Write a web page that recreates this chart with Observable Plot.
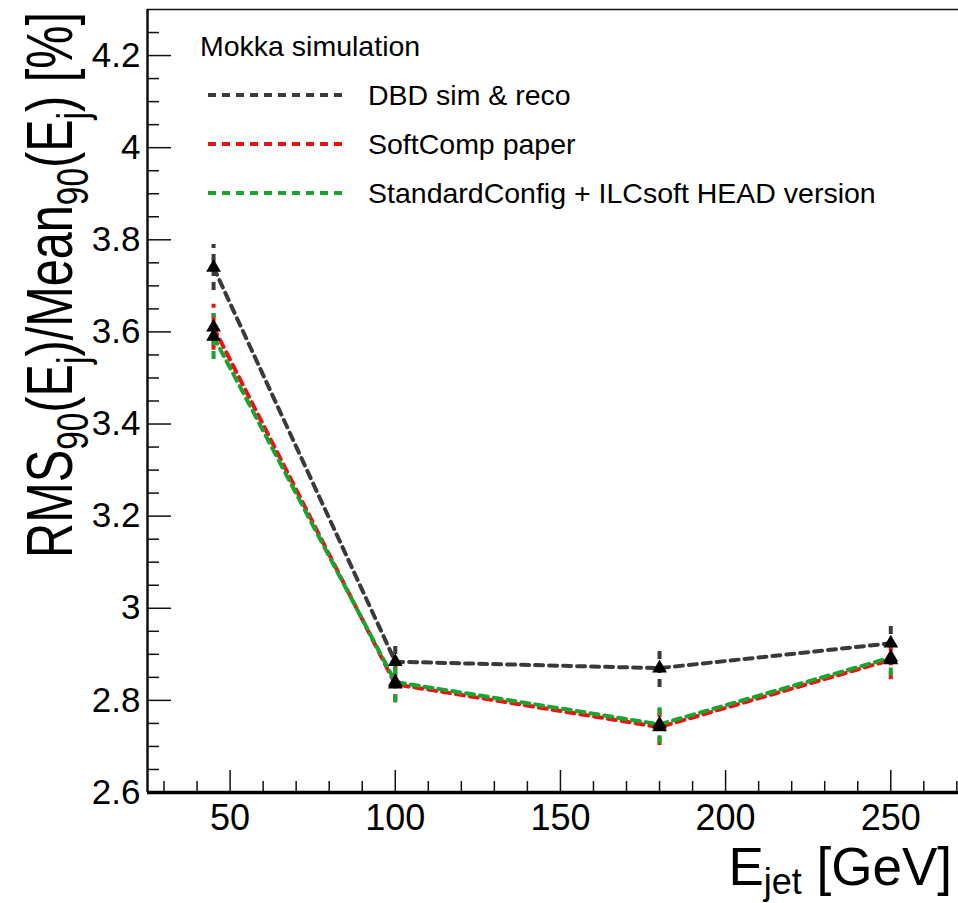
<!DOCTYPE html>
<html>
<head>
<meta charset="utf-8">
<script src="https://cdn.jsdelivr.net/npm/d3@7"></script>
<script src="https://cdn.jsdelivr.net/npm/@observablehq/plot@0.6"></script>
<style>
  html, body { margin: 0; padding: 0; background: #fff; }
  #chart svg { display: block; }
</style>
</head>
<body>
<div id="chart"></div>
<script>
// ---- data ----
const energies = [45, 100, 180, 250];

const seriesNames = ["DBD sim & reco", "SoftComp paper", "StandardConfig + ILCsoft HEAD version"];
const seriesColors = ["#3a3a3a", "#ee1111", "#1aa32e"];

const dbdValues = [3.74, 2.884, 2.870, 2.924];
const dbdErrors = [0.050, 0.045, 0.042, 0.042];

const softCompValues = [3.610, 2.835, 2.742, 2.888];
const softCompErrors = [0.050, 0.040, 0.040, 0.043];

const standardValues = [3.590, 2.840, 2.748, 2.893];
const standardErrors = [0.050, 0.045, 0.042, 0.040];

const yTickValues = [2.6, 2.8, 3.0, 3.2, 3.4, 3.6, 3.8, 4.0, 4.2];
const yTickLabels = ["2.6", "2.8", "3", "3.2", "3.4", "3.6", "3.8", "4", "4.2"];
const xTickValues = [50, 100, 150, 200, 250];
const xTickLabels = ["50", "100", "150", "200", "250"];

const legendTitle = "Mokka simulation";

// ---- build tables ----
const valueSets = [dbdValues, softCompValues, standardValues];
const errorSets = [dbdErrors, softCompErrors, standardErrors];
const tables = seriesNames.map((name, s) =>
  energies.map((e, i) => ({
    series: name,
    energy: e,
    value: valueSets[s][i],
    lo: valueSets[s][i] - errorSets[s][i],
    hi: valueSets[s][i] + errorSets[s][i]
  }))
);
const allRows = tables.flat();

const yMinor = d3.range(2.65, 4.3, 0.05).filter(v => !yTickValues.some(t => Math.abs(t - v) < 1e-6));
const xMinor = d3.range(30, 271, 10).filter(v => !xTickValues.includes(v));

// ---- layout ----
const W = 958, H = 903;
const mL = 147, mR = 0, mT = 9, mB = 111;
const plotW = W - mL - mR, plotH = H - mT - mB;
const xDomain = [25, 270.5];
const yDomain = [2.6, 4.3];
const font = "'Liberation Sans', Arial, Helvetica, sans-serif";
const dash = "8,6";

const seriesMarks = tables.flatMap((rows, s) => [
  Plot.ruleX(rows, {x: "energy", y1: "lo", y2: "hi", stroke: seriesColors[s], strokeWidth: 4, strokeDasharray: dash}),
  Plot.line(rows, {x: "energy", y: "value", stroke: seriesColors[s], strokeWidth: 4, strokeDasharray: dash})
]);

const svg = Plot.plot({
  width: W, height: H,
  marginLeft: mL, marginRight: mR, marginTop: mT, marginBottom: mB,
  style: {fontFamily: font, background: "#fff", overflow: "visible"},
  x: {domain: xDomain, label: null},
  y: {domain: yDomain, label: null},
  marks: [
    // minor / major ticks pointing inward
    Plot.ruleY(yMinor, {y: d => d, insetRight: plotW - 12, stroke: "#111", strokeWidth: 1.5}),
    Plot.ruleY(yTickValues, {y: d => d, insetRight: plotW - 24, stroke: "#111", strokeWidth: 1.5}),
    Plot.ruleX(xMinor, {x: d => d, insetTop: plotH - 11, stroke: "#111", strokeWidth: 1.5}),
    Plot.ruleX(xTickValues, {x: d => d, insetTop: plotH - 22, stroke: "#111", strokeWidth: 1.5}),
    // frame
    Plot.ruleY([yDomain[1]], {stroke: "#111", strokeWidth: 1.5}),
    Plot.ruleX([xDomain[0]], {stroke: "#111", strokeWidth: 2.5}),
    Plot.ruleY([yDomain[0]], {stroke: "#000", strokeWidth: 3.5}),
    // tick labels
    Plot.axisY(yTickValues, {tickSize: 0, tickPadding: 7, fontSize: 35, label: null,
      tickFormat: d => yTickLabels[yTickValues.indexOf(d)], fill: "#000"}),
    Plot.axisX(xTickValues, {tickSize: 0, tickPadding: 12, fontSize: 36, label: null,
      tickFormat: d => xTickLabels[xTickValues.indexOf(d)], fill: "#000"}),
    // data
    ...seriesMarks,
    Plot.dot(allRows, {x: "energy", y: "value", symbol: "triangle", r: 5.5, fill: "#000", stroke: "none"})
  ]
});

// ---- titles and legend (text elements appended to the Plot SVG) ----
const g = d3.select(svg).append("g").attr("font-family", font).attr("fill", "#000")
  .attr("text-anchor", "start");

// x title: E_jet [GeV]
const xt = g.append("text").attr("x", 952).attr("y", 885).attr("text-anchor", "end").attr("font-size", 53);
xt.append("tspan").text("E");
xt.append("tspan").attr("font-size", 36).attr("dy", 9).text("jet");
xt.append("tspan").attr("dy", -9).text(" [GeV]");

// y title: RMS90(Ej)/Mean90(Ej) [%]  (condensed along its length)
const yt = g.append("text").attr("transform", "rotate(-90) scale(0.76,1)")
  .attr("x", -12 / 0.76).attr("y", 72).attr("text-anchor", "end").attr("font-size", 64);
const sub = 44, sdy = 16;
yt.append("tspan").text("RMS");
yt.append("tspan").attr("font-size", sub).attr("dy", sdy).text("90");
yt.append("tspan").attr("dy", -sdy).text("(E");
yt.append("tspan").attr("font-size", sub).attr("dy", sdy).text("j");
yt.append("tspan").attr("dy", -sdy).text(")/Mean");
yt.append("tspan").attr("font-size", sub).attr("dy", sdy).text("90");
yt.append("tspan").attr("dy", -sdy).text("(E");
yt.append("tspan").attr("font-size", sub).attr("dy", sdy).text("j");
yt.append("tspan").attr("dy", -sdy).text(") [%]");

// legend
const lg = g.append("g").attr("font-size", 28.5).attr("text-anchor", "start");
lg.append("text").attr("x", 200).attr("y", 56).text(legendTitle);
seriesNames.forEach((name, s) => {
  const yy = 95 + s * 49;
  lg.append("line").attr("x1", 208).attr("x2", 342).attr("y1", yy).attr("y2", yy)
    .attr("stroke", seriesColors[s]).attr("stroke-width", 4).attr("stroke-dasharray", dash);
  lg.append("text").attr("x", 368).attr("y", yy + 10).text(name);
});

document.getElementById("chart").appendChild(svg);
</script>
</body>
</html>
